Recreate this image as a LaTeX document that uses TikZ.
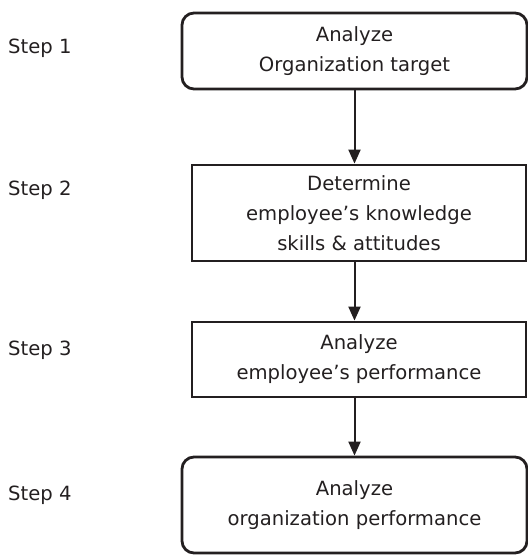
\documentclass[tikz,border=0pt]{standalone}
\usepackage{fontspec}
\setmainfont{DejaVu Sans}
\usetikzlibrary{arrows.meta}
\definecolor{ink}{HTML}{231F20}
\definecolor{txt}{HTML}{231F20}
\begin{document}
\begin{tikzpicture}[x=1pt,y=-1pt,
  box/.style={draw=ink, line width=2.8pt, align=center, inner sep=0pt,
    font=\fontsize{19.6}{30}\selectfont, text=txt},
  rbox/.style={box, rounded corners=12pt},
  steplbl/.style={anchor=west, inner sep=0pt, font=\fontsize{19.6}{23}\selectfont, text=txt},
  arr/.style={draw=ink, line width=2pt, -{Triangle[length=14pt,width=12pt]}}]
\useasboundingbox (0,0) rectangle (528,555);
\node[rbox, minimum width=345pt, minimum height=76pt] (b1) at (354.5,51) {Analyze\\Organization target};
\node[box, minimum width=334pt, minimum height=96pt] (b2) at (359,213) {Determine\\employee’s knowledge\\skills \& attitudes};
\node[box, minimum width=334pt, minimum height=75pt] (b3) at (359,359.5) {Analyze\\employee’s performance};
\node[rbox, minimum width=345pt, minimum height=96pt] (b4) at (354.5,505) {Analyze\\organization performance};
\node[steplbl] (s1) at (8,48) {Step 1};
\node[steplbl] (s2) at (8,190) {Step 2};
\node[steplbl] (s3) at (8,350) {Step 3};
\node[steplbl] (s4) at (8,495) {Step 4};
\draw[arr] (b1.south) -- (b1.south |- b2.north);
\draw[arr] (b1.south |- b2.south) -- (b1.south |- b3.north);
\draw[arr] (b1.south |- b3.south) -- (b1.south |- b4.north);
\end{tikzpicture}
\end{document}
